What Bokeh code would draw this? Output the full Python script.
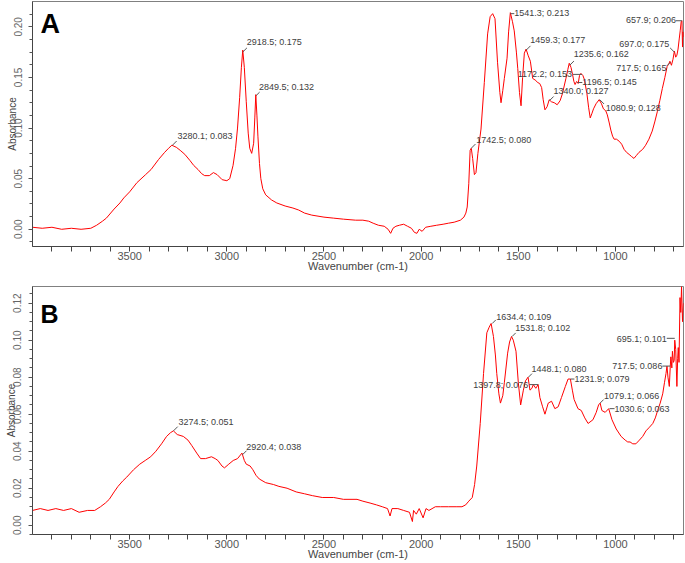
from bokeh.plotting import figure
from bokeh.layouts import column
from bokeh.models import Range1d, FixedTicker, PrintfTickFormatter, ColumnDataSource
from bokeh.core.properties import value
from bokeh.embed import file_html
from bokeh.resources import INLINE

# ---------------- data : panel A ----------------
a_wn = [4000, 3950, 3900, 3850, 3800, 3750, 3700, 3670, 3640, 3620, 3580, 3550, 3530, 3500,
        3463, 3418, 3390, 3351, 3320, 3300, 3283, 3260, 3240, 3216, 3190, 3170, 3148, 3130,
        3114, 3090, 3069, 3050, 3024, 3000, 2985, 2968, 2955, 2945, 2934, 2925, 2918, 2910,
        2900, 2890, 2882, 2872, 2862, 2856, 2851, 2845, 2840, 2832, 2825, 2815, 2800, 2770,
        2743, 2700, 2660, 2630, 2600, 2563, 2500, 2450, 2400, 2337, 2300, 2270, 2247, 2220,
        2190, 2170, 2157, 2145, 2130, 2112, 2090, 2070, 2050, 2035, 2022, 2010, 1995, 1977,
        1950, 1920, 1887, 1860, 1830, 1798, 1780, 1770, 1763, 1755, 1748, 1742, 1735, 1726,
        1718, 1708, 1692, 1675, 1658, 1645, 1632, 1620, 1607, 1595, 1589, 1580, 1572, 1558,
        1550, 1541, 1530, 1521, 1510, 1503, 1494, 1486, 1478, 1469, 1460, 1450, 1438, 1426,
        1410, 1401, 1390, 1380, 1372, 1363, 1352, 1341, 1330, 1315, 1300, 1285, 1273, 1255,
        1245, 1238, 1229, 1221, 1214, 1208, 1200, 1192, 1185, 1178, 1168, 1160, 1147, 1138,
        1130, 1122, 1113, 1100, 1084, 1072, 1062, 1050, 1042, 1032, 1024, 1015, 1007, 995,
        981, 968, 956, 943, 930, 918, 905, 892, 879, 860, 845, 828, 811, 798, 785, 772, 759,
        746, 734, 726, 720, 712, 704, 697, 690, 684, 678, 672, 667, 662, 658, 655, 652, 650]
a_abs = [0.002, 0.001, 0.002, 0.000, 0.001, 0.000, 0.001, 0.004, 0.008, 0.011, 0.020, 0.026, 0.031, 0.037,
         0.046, 0.054, 0.059, 0.069, 0.076, 0.080, 0.083, 0.081, 0.078, 0.074, 0.068, 0.063, 0.059, 0.055,
         0.053, 0.053, 0.056, 0.054, 0.049, 0.048, 0.050, 0.063, 0.080, 0.100, 0.130, 0.160, 0.177, 0.160,
         0.126, 0.095, 0.080, 0.075, 0.085, 0.110, 0.133, 0.112, 0.092, 0.065, 0.050, 0.040, 0.034, 0.029,
         0.026, 0.023, 0.021, 0.019, 0.016, 0.014, 0.012, 0.011, 0.010, 0.009, 0.009, 0.008, 0.006, 0.004,
         0.003, 0.000, -0.004, 0.001, 0.003, 0.004, 0.005, 0.003, 0.001, -0.003, -0.004, 0.000, -0.002, 0.002,
         0.003, 0.004, 0.005, 0.006, 0.007, 0.009, 0.012, 0.016, 0.022, 0.045, 0.078, 0.080, 0.070, 0.054,
         0.056, 0.075, 0.099, 0.145, 0.193, 0.210, 0.213, 0.208, 0.165, 0.135, 0.125, 0.137, 0.149, 0.169,
         0.195, 0.214, 0.205, 0.196, 0.175, 0.159, 0.135, 0.122, 0.150, 0.174, 0.178, 0.172, 0.166, 0.149,
         0.147, 0.145, 0.144, 0.140, 0.128, 0.118, 0.121, 0.128, 0.126, 0.125, 0.123, 0.127, 0.134, 0.149,
         0.158, 0.164, 0.160, 0.153, 0.146, 0.143, 0.146, 0.144, 0.152, 0.154, 0.152, 0.148, 0.134, 0.120,
         0.110, 0.114, 0.119, 0.124, 0.128, 0.124, 0.119, 0.117, 0.113, 0.105, 0.098, 0.092, 0.089, 0.089,
         0.087, 0.084, 0.079, 0.076, 0.074, 0.072, 0.070, 0.073, 0.076, 0.079, 0.083, 0.089, 0.097, 0.106, 0.116, 0.127, 0.139,
         0.150, 0.161, 0.163, 0.166, 0.162, 0.168, 0.176, 0.170, 0.172, 0.178, 0.188, 0.196, 0.205, 0.206, 0.180, 0.195, 0.190]

a_peak_wn = [3280.1, 2918.5, 2849.5, 1742.5, 1541.3, 1459.3, 1235.6, 1172.2, 1196.5, 1340.0, 1080.9, 657.9, 697.0, 717.5]
a_peak_abs = [0.083, 0.175, 0.132, 0.080, 0.213, 0.177, 0.162, 0.153, 0.145, 0.127, 0.128, 0.206, 0.175, 0.165]

# ---------------- data : panel B ----------------
b_wn = [4000, 3960, 3920, 3880, 3840, 3800, 3760, 3717, 3680, 3650, 3625, 3605, 3580, 3560, 3535, 3515,
        3480, 3448, 3420, 3392, 3365, 3336, 3310, 3290, 3275, 3255, 3224, 3200, 3180, 3155, 3135, 3110,
        3079, 3060, 3046, 3025, 3012, 2990, 2967, 2945, 2922, 2910, 2900, 2880, 2866, 2850, 2833, 2800,
        2760, 2732, 2690, 2643, 2600, 2560, 2509, 2450, 2400, 2330, 2300, 2263, 2230, 2200, 2173, 2160,
        2150, 2120, 2090, 2060, 2045, 2039, 2025, 2010, 1990, 1975, 1960, 1927, 1900, 1860, 1820, 1790,
        1771, 1755, 1737, 1725, 1714, 1696, 1679, 1662, 1650, 1640, 1628, 1618, 1611, 1600, 1592, 1580,
        1572, 1555, 1545, 1535, 1526, 1512, 1500, 1488, 1474, 1463, 1450, 1440, 1430, 1423, 1410, 1398,
        1389, 1375, 1363, 1346, 1329, 1312, 1295, 1278, 1258, 1244, 1232, 1222, 1213, 1193, 1176, 1158,
        1141, 1116, 1099, 1087, 1079, 1070, 1053, 1035, 1018, 996, 971, 950, 937, 925, 911, 895, 877,
        860, 843, 825, 808, 795, 783, 770, 757, 748, 740, 735, 730, 723, 718, 715, 710, 707, 702, 698,
        695, 690, 684, 680, 677, 673, 668, 664, 660, 655, 650]
b_abs = [0.008, 0.009, 0.008, 0.009, 0.008, 0.009, 0.007, 0.008, 0.008, 0.010, 0.012, 0.014, 0.018, 0.021, 0.024, 0.026,
         0.030, 0.033, 0.035, 0.037, 0.040, 0.044, 0.048, 0.050, 0.051, 0.049, 0.048, 0.046, 0.043, 0.039, 0.036, 0.036,
         0.037, 0.036, 0.035, 0.032, 0.031, 0.033, 0.035, 0.036, 0.039, 0.035, 0.033, 0.032, 0.030, 0.027, 0.025, 0.023,
         0.022, 0.021, 0.020, 0.018, 0.017, 0.016, 0.015, 0.015, 0.014, 0.014, 0.013, 0.012, 0.011, 0.010, 0.009, 0.005,
         0.009, 0.009, 0.008, 0.007, 0.002, 0.008, 0.006, 0.009, 0.004, 0.009, 0.008, 0.010, 0.010, 0.010, 0.010, 0.010,
         0.011, 0.013, 0.015, 0.022, 0.032, 0.055, 0.082, 0.104, 0.107, 0.109, 0.102, 0.092, 0.082, 0.071, 0.066, 0.070,
         0.077, 0.093, 0.099, 0.102, 0.100, 0.094, 0.077, 0.065, 0.073, 0.078, 0.080, 0.073, 0.074, 0.076, 0.074, 0.076,
         0.069, 0.064, 0.060, 0.066, 0.067, 0.063, 0.064, 0.069, 0.075, 0.079, 0.079, 0.073, 0.068, 0.063, 0.062, 0.058,
         0.055, 0.057, 0.061, 0.065, 0.066, 0.062, 0.061, 0.063, 0.057, 0.052, 0.048, 0.046, 0.045, 0.045, 0.044, 0.044, 0.046,
         0.048, 0.051, 0.053, 0.055, 0.058, 0.062, 0.066, 0.071, 0.077, 0.082, 0.086, 0.080, 0.075, 0.086, 0.091, 0.085, 0.094, 0.088, 0.089,
         0.100, 0.095, 0.075, 0.090, 0.096, 0.088, 0.123, 0.115, 0.129, 0.110, 0.120]

b_peak_wn = [3274.5, 2920.4, 1634.4, 1531.8, 1448.1, 1397.8, 1231.9, 1079.1, 1030.6, 695.1, 717.5]
b_peak_abs = [0.051, 0.038, 0.109, 0.102, 0.080, 0.076, 0.079, 0.066, 0.063, 0.101, 0.086]

x_major = [3500, 3000, 2500, 2000, 1500, 1000]
x_minor = [3900, 3800, 3700, 3600, 3400, 3300, 3200, 3100, 2900, 2800, 2700, 2600, 2400, 2300, 2200, 2100,
           1900, 1800, 1700, 1600, 1400, 1300, 1200, 1100, 900, 800, 700]
a_y_major = [0.00, 0.05, 0.10, 0.15, 0.20]
a_y_minor = [-0.0125, 0.0125, 0.025, 0.0375, 0.0625, 0.075, 0.0875, 0.1125, 0.125, 0.1375,
             0.1625, 0.175, 0.1875, 0.2125]
b_y_major = [0.00, 0.02, 0.04, 0.06, 0.08, 0.10, 0.12]
b_y_minor = [-0.005, 0.005, 0.01, 0.015, 0.025, 0.03, 0.035, 0.045, 0.05, 0.055, 0.065, 0.07, 0.075,
             0.085, 0.09, 0.095, 0.105, 0.11, 0.115, 0.125]

# ---------------- label placement (pixels) ----------------
a_dx = [5, 4, 3, 5, 4, 4, 4, -10, 5, 4, 6, -6, -5, -4]
a_dy = [-9, -10, -9, -8, -1, -10, -11, 0, 0, -10, 8, -1, -8, 6]
a_align = ["left", "left", "left", "left", "left", "left", "left", "right", "left", "left", "left", "right", "right", "right"]
a_ang = [45, 45, 45, 45, 0, 45, 45, 180, 0, 45, -45, 180, 135, 225]
a_len = [6, 6, 5, 6, 4, 6, 6, 9, 5, 6, 6, 6, 6, 5]

b_dx = [5, 4, 4, 3, 3, -10, 4, 4, 5, -8, -8]
b_dy = [-9, -8, -7, -8, -8, 0, 0, -7, 0, 1, 0]
b_align = ["left", "left", "left", "left", "left", "right", "left", "left", "left", "right", "right"]
b_ang = [45, 45, 45, 45, 45, 180, 0, 45, 0, 180, 180]
b_len = [6, 6, 5, 5, 5, 9, 4, 5, 5, 8, 8]

FONT = "Liberation Sans"


def make_panel(wn, ab, pk_wn, pk_ab, dx, dy, align, ang, ln, yrange, ymaj, ymin, letter,
               letter_size, letter_dy, height, top, left, ylab_standoff):
    p = figure(width=685, height=height, x_range=Range1d(4000, 650), y_range=Range1d(*yrange),
               output_backend="svg", toolbar_location=None,
               min_border_left=left, min_border_right=2, min_border_top=top, min_border_bottom=0)
    p.background_fill_color = "white"
    p.border_fill_color = "white"
    p.grid.visible = False
    p.outline_line_color = "#808080"
    p.outline_line_width = 1

    xa = p.xaxis[0]
    xa.ticker = FixedTicker(ticks=x_major, minor_ticks=x_minor)
    xa.axis_label = "Wavenumber (cm-1)"
    xa.axis_label_text_font = FONT
    xa.axis_label_text_font_size = "11px"
    xa.axis_label_text_font_style = "normal"
    xa.axis_label_text_color = "#444444"
    xa.axis_label_standoff = -3
    xa.major_label_text_font = FONT
    xa.major_label_text_font_size = "11px"
    xa.major_label_text_color = "#555555"
    xa.major_label_standoff = 0
    xa.major_tick_in = 0
    xa.major_tick_out = 5
    xa.minor_tick_in = 0
    xa.minor_tick_out = 5
    xa.axis_line_color = "#444444"
    xa.major_tick_line_color = "#444444"
    xa.minor_tick_line_color = "#444444"

    ya = p.yaxis[0]
    ya.ticker = FixedTicker(ticks=ymaj, minor_ticks=ymin)
    ya.formatter = PrintfTickFormatter(format="%.2f")
    ya.major_label_orientation = "vertical"
    ya.axis_label = "Absorbance"
    ya.axis_label_text_font = FONT
    ya.axis_label_text_font_size = "10px"
    ya.axis_label_text_font_style = "normal"
    ya.axis_label_text_color = "#444444"
    ya.axis_label_standoff = -6
    ya.major_label_text_font = FONT
    ya.major_label_text_font_size = "10px"
    ya.major_label_text_color = "#666666"
    ya.major_label_standoff = ylab_standoff
    ya.major_tick_in = 0
    ya.major_tick_out = 4
    ya.minor_tick_in = 0
    ya.minor_tick_out = 3
    ya.axis_line_color = "#444444"
    ya.major_tick_line_color = "#555555"
    ya.minor_tick_line_color = "#555555"

    p.line(wn, ab, line_color="#ff0000", line_width=1)

    src = ColumnDataSource(dict(x=pk_wn, y=pk_ab,
                                txt=["%.1f; %.3f" % (w, a) for w, a in zip(pk_wn, pk_ab)],
                                dx=dx, dy=dy, align=align, ang=ang, ln=ln))
    p.ray(x="x", y="y", length="ln", angle="ang", angle_units="deg", length_units="screen",
          source=src, line_color="#555555", line_width=1)
    p.text(x="x", y="y", text="txt", x_offset="dx", y_offset="dy", text_align="align",
           text_baseline="middle", text_font=value(FONT), text_font_size="9px",
           text_color="#404040", source=src)

    p.text(x=[4000], y=[yrange[1]], text=[letter], x_offset=8, y_offset=letter_dy,
           text_align="left", text_baseline="top", text_font=value(FONT),
           text_font_size=letter_size, text_font_style="bold", text_color="black")
    return p


pA = make_panel(a_wn, a_abs, a_peak_wn, a_peak_abs, a_dx, a_dy, a_align, a_ang, a_len,
                (-0.017, 0.225), a_y_major, a_y_minor, "A", "27px", 7, 274, 1, 27, 6)
pB = make_panel(b_wn, b_abs, b_peak_wn, b_peak_abs, b_dx, b_dy, b_align, b_ang, b_len,
                (-0.005, 0.129), b_y_major, b_y_minor, "B", "25px", 13, 288, 12, 32, 7)

layout = column(pA, pB, spacing=0)
open("out.html", "w").write(file_html(layout, INLINE))
